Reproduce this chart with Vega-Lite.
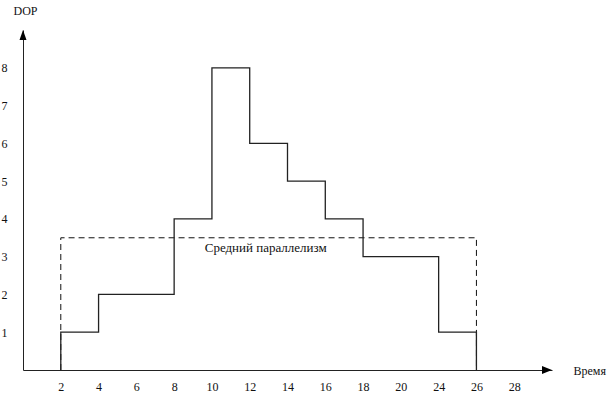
{
  "$schema": "https://vega.github.io/schema/vega-lite/v6.json",
  "width": 529,
  "height": 340,
  "autosize": "none",
  "padding": {"left": 23, "top": 30, "right": 57, "bottom": 26},
  "background": "white",
  "config": {
    "view": {"stroke": null},
    "font": "Liberation Serif",
    "text": {"font": "Liberation Serif"},
    "axis": {"grid": false, "ticks": false, "domainColor": "#222", "domainWidth": 1, "labelFont": "Liberation Serif", "labelFontSize": 12, "labelColor": "#111", "titleFont": "Liberation Serif", "titleFontSize": 12, "titleFontWeight": "normal", "titleColor": "#111"}
  },
  "datasets": {
    "dop": [
      {"order": 1, "t": 2, "dop": 0},
      {"order": 2, "t": 2, "dop": 1},
      {"order": 3, "t": 4, "dop": 1},
      {"order": 4, "t": 4, "dop": 2},
      {"order": 5, "t": 8, "dop": 2},
      {"order": 6, "t": 8, "dop": 4},
      {"order": 7, "t": 10, "dop": 4},
      {"order": 8, "t": 10, "dop": 8},
      {"order": 9, "t": 12, "dop": 8},
      {"order": 10, "t": 12, "dop": 6},
      {"order": 11, "t": 14, "dop": 6},
      {"order": 12, "t": 14, "dop": 5},
      {"order": 13, "t": 16, "dop": 5},
      {"order": 14, "t": 16, "dop": 4},
      {"order": 15, "t": 18, "dop": 4},
      {"order": 16, "t": 18, "dop": 3},
      {"order": 17, "t": 24, "dop": 3},
      {"order": 18, "t": 24, "dop": 1},
      {"order": 19, "t": 26, "dop": 1},
      {"order": 20, "t": 26, "dop": 0}
    ],
    "avg": [
      {"order": 1, "t": 2, "dop": 0},
      {"order": 2, "t": 2, "dop": 3.5},
      {"order": 3, "t": 26, "dop": 3.5},
      {"order": 4, "t": 26, "dop": 0}
    ],
    "one": [{"label": "Средний параллелизм"}]
  },
  "layer": [
    {
      "data": {"name": "avg"},
      "mark": {"type": "line", "stroke": "#111", "strokeWidth": 1, "strokeDash": [6, 4]},
      "encoding": {
        "x": {"field": "t", "type": "ordinal",
              "scale": {"type": "point", "domain": [0, 2, 4, 6, 8, 10, 12, 14, 16, 18, 20, 24, 26, 28, 30], "padding": 0},
              "axis": {"title": "Время", "labelAngle": 0, "labelPadding": 11, "labelExpr": "datum.value == 0 || datum.value == 30 ? '' : datum.label", "titleX": 550, "titleY": 0, "titleAlign": "left", "titleBaseline": "middle", "titleAngle": 0}},
        "y": {"field": "dop", "type": "quantitative",
              "scale": {"domain": [0, 9], "nice": false, "zero": true},
              "axis": {"title": "DOP", "values": [1, 2, 3, 4, 5, 6, 7, 8], "labelPadding": 16, "titleAngle": 0, "titleX": 2, "titleY": -20, "titleAlign": "center", "titleBaseline": "middle"}},
        "order": {"field": "order", "type": "quantitative"}
      }
    },
    {
      "data": {"name": "dop"},
      "mark": {"type": "line", "stroke": "#222", "strokeWidth": 1.3},
      "encoding": {
        "x": {"field": "t", "type": "ordinal"},
        "y": {"field": "dop", "type": "quantitative"},
        "order": {"field": "order", "type": "quantitative"}
      }
    },
    {
      "data": {"name": "one"},
      "mark": {"type": "text", "fontSize": 13, "align": "center", "baseline": "middle", "dx": 16, "color": "#111"},
      "encoding": {
        "text": {"field": "label"},
        "x": {"datum": 12, "type": "ordinal"},
        "y": {"datum": 3.23, "type": "quantitative"}
      }
    },
    {
      "data": {"name": "one"},
      "mark": {"type": "point", "shape": "M0,0L0.7,2L-0.7,2Z", "size": 100, "filled": true, "color": "#000", "opacity": 1},
      "encoding": {
        "x": {"datum": 0, "type": "ordinal"},
        "y": {"datum": 9, "type": "quantitative"}
      }
    },
    {
      "data": {"name": "one"},
      "mark": {"type": "point", "shape": "M0,0L-2,-0.8L-2,0.8Z", "size": 100, "filled": true, "color": "#000", "opacity": 1},
      "encoding": {
        "x": {"datum": 30, "type": "ordinal"},
        "y": {"datum": 0, "type": "quantitative"}
      }
    }
  ]
}
